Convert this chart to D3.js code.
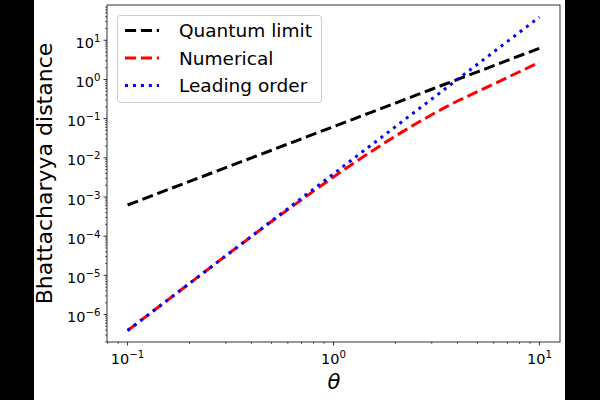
<!DOCTYPE html>
<html><head><meta charset="utf-8">
<script src="https://cdn.jsdelivr.net/npm/d3@7"></script>
<style>body{margin:0;background:#000}svg{display:block}text{font-family:"DejaVu Sans",sans-serif}</style>
</head><body><svg id="c" width="600" height="400"></svg>
<script>
const theta = [0.1, 0.15, 0.2, 0.3, 0.4, 0.5, 0.6, 0.7, 0.85, 1.0, 1.25, 1.5, 1.75, 2.0, 2.5, 3.0, 3.5, 4.0, 5.0, 6.0, 7.0, 8.5, 10];
const quantumLimit = [6.25e-4, 1.41e-3, 2.5e-3, 5.63e-3, 1.0e-2, 1.56e-2, 2.25e-2, 3.06e-2, 4.52e-2, 6.25e-2, 9.77e-2, 0.141, 0.191, 0.25, 0.391, 0.563, 0.766, 1.0, 1.56, 2.25, 3.06, 4.52, 6.25];
const numerical = [3.91e-7, 1.98e-6, 6.25e-6, 3.17e-5, 9.89e-5, 2.38e-4, 4.79e-4, 8.55e-4, 1.78e-3, 3.25e-3, 7.24e-3, 1.37e-2, 2.31e-2, 3.60e-2, 7.31e-2, 0.126, 0.196, 0.282, 0.488, 0.767, 1.127, 1.82, 2.77];
const leadingOrder = [3.91e-7, 1.98e-6, 6.25e-6, 3.16e-5, 1.0e-4, 2.44e-4, 5.06e-4, 9.38e-4, 2.04e-3, 3.91e-3, 9.54e-3, 1.98e-2, 3.66e-2, 6.25e-2, 0.153, 0.316, 0.586, 1.0, 2.44, 5.06, 9.38, 20.4, 39.06];
const seriesNames = ["Quantum limit", "Numerical", "Leading order"];
const xTickExps = [-1, 0, 1];
const yTickExps = [-6, -5, -4, -3, -2, -1, 0, 1];

const svg = d3.select("#c");
svg.append("rect").attr("x", 34).attr("y", 0).attr("width", 531).attr("height", 400).attr("fill", "#fff");

const L = 107, R = 560, T = 5, B = 342;
const x = d3.scaleLog().domain([Math.pow(10, -1.1), Math.pow(10, 1.1)]).range([L, R]);
const y = d3.scaleLog().domain([Math.pow(10, -6.70), Math.pow(10, 1.90)]).range([B, T]);

const g = svg.append("g");
const FS = 14.5, SFS = 10.2;

// minor ticks
x.ticks().forEach(v => {
  const e = Math.log10(v);
  if (Math.abs(e - Math.round(e)) < 1e-9) return;
  g.append("line").attr("x1", x(v)).attr("x2", x(v)).attr("y1", B).attr("y2", B + 2).attr("stroke", "#000").attr("stroke-width", 0.6);
});
for (let e = -7; e <= 2; e++) for (let m = 2; m <= 9; m++) {
  const v = m * Math.pow(10, e);
  if (v < y.domain()[0] || v > y.domain()[1]) continue;
  g.append("line").attr("x1", L - 2).attr("x2", L).attr("y1", y(v)).attr("y2", y(v)).attr("stroke", "#000").attr("stroke-width", 0.6);
}
// major ticks
xTickExps.forEach(e => {
  const px = x(Math.pow(10, e));
  g.append("line").attr("x1", px).attr("x2", px).attr("y1", B).attr("y2", B + 3.5).attr("stroke", "#000").attr("stroke-width", 0.8);
  const t = g.append("text").attr("x", px).attr("y", 363.5).attr("text-anchor", "middle").attr("font-size", FS);
  t.append("tspan").text("10");
  t.append("tspan").attr("dy", -6).attr("font-size", SFS).text(String(e).replace("-", "\u2212"));
});
yTickExps.forEach(e => {
  const py = y(Math.pow(10, e));
  g.append("line").attr("x1", L - 3.5).attr("x2", L).attr("y1", py).attr("y2", py).attr("stroke", "#000").attr("stroke-width", 0.8);
  const t = g.append("text").attr("x", 100.5).attr("y", py + 7.5).attr("text-anchor", "end").attr("font-size", FS);
  t.append("tspan").text("10");
  t.append("tspan").attr("dy", -6).attr("font-size", SFS).text(String(e).replace("-", "\u2212"));
});

// lines
svg.append("clipPath").attr("id", "pc").append("rect").attr("x", L).attr("y", T).attr("width", R - L).attr("height", B - T);
const line = d3.line().x(d => x(d[0])).y(d => y(d[1]));
const styles = [
  {data: quantumLimit, color: "#000000", dash: "11.1,4.8"},
  {data: numerical, color: "#ff0000", dash: "11.1,4.8"},
  {data: leadingOrder, color: "#0000ff", dash: "3,4.95"}
];
const lg = svg.append("g").attr("clip-path", "url(#pc)");
styles.forEach(s => {
  lg.append("path").attr("d", line(theta.map((t, i) => [t, s.data[i]])))
    .attr("fill", "none").attr("stroke", s.color).attr("stroke-width", 3).attr("stroke-dasharray", s.dash);
});

// frame
svg.append("rect").attr("x", L).attr("y", T).attr("width", R - L).attr("height", B - T).attr("fill", "none").attr("stroke", "#000").attr("stroke-width", 0.8);

// legend
const leg = svg.append("g");
leg.append("rect").attr("x", 117.5).attr("y", 15.5).attr("width", 204).attr("height", 87).attr("rx", 3).attr("fill", "#fff").attr("fill-opacity", 0.8).attr("stroke", "#cccccc").attr("stroke-width", 1);
styles.forEach((s, i) => {
  const cy = 30.5 + i * 27.5;
  leg.append("line").attr("x1", 125).attr("x2", 159).attr("y1", cy).attr("y2", cy).attr("stroke", s.color).attr("stroke-width", 3).attr("stroke-dasharray", s.dash);
  leg.append("text").attr("x", 179).attr("y", cy + 6.5).attr("font-size", 18.5).text(seriesNames[i]);
});

// axis labels
svg.append("text").attr("x", 334).attr("y", 389).attr("text-anchor", "middle").attr("font-size", 21).attr("font-style", "italic").text("\u03b8");
svg.append("text").attr("transform", `translate(52,${(T + B) / 2}) rotate(-90)`).attr("text-anchor", "middle").attr("font-size", 22).text("Bhattacharyya distance");
</script></body></html>
